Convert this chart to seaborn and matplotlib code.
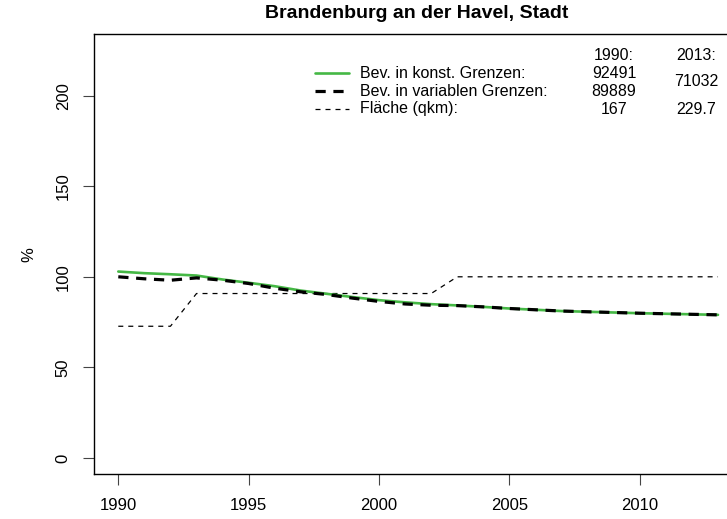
import numpy as np
import pandas as pd
import matplotlib
matplotlib.use("Agg")
import matplotlib.pyplot as plt
from matplotlib.lines import Line2D
import seaborn as sns

# Data
years = list(range(1990, 2014))
bev_konst = [102.9, 102.0, 101.4, 100.7, 98.5, 96.7, 94.8, 92.4, 90.6, 88.8,
             87.1, 85.9, 84.9, 84.2, 83.4, 82.5, 81.8, 81.1, 80.7, 80.3,
             79.9, 79.6, 79.3, 79.0]
bev_var = [100.0, 98.9, 98.1, 99.4, 98.1, 96.3, 93.7, 91.7, 90.2, 88.2,
           86.4, 85.0, 84.3, 84.1, 83.4, 82.5, 81.8, 81.1, 80.7, 80.3,
           79.9, 79.6, 79.3, 79.0]
flaeche_qkm = [167.0] * 3 + [208.5] * 10 + [229.7] * 11

legend_labels = ["Bev. in konst. Grenzen:", "Bev. in variablen Grenzen:", "Fläche (qkm):"]
col_1990 = ["92491", "89889", "167"]
col_2013 = ["71032", "229.7"]

df = pd.DataFrame({
    "Jahr": years,
    "konst": bev_konst,
    "variabel": bev_var,
    "flaeche": np.array(flaeche_qkm) / flaeche_qkm[-1] * 100,
})

sns.set_style("ticks")
plt.rcParams["font.family"] = ["Liberation Sans", "DejaVu Sans"]
plt.rcParams["text.color"] = "black"
plt.rcParams["axes.labelcolor"] = "black"
plt.rcParams["xtick.color"] = "black"
plt.rcParams["ytick.color"] = "black"

W, H = 727, 519
fig = plt.figure(figsize=(W / 100, H / 100), dpi=100)

def fx(px):
    return px / W

def fy(py):
    return 1 - py / H

# axes box (right edge is cut off by the image border, as in the reference)
left, right, top, bottom = 94.3, 742, 34, 474.3
ax = fig.add_axes([fx(left), fy(bottom), fx(right - left), (bottom - top) / H])

green = "#45b845"
sns.lineplot(data=df, x="Jahr", y="flaeche", ax=ax, color="black", lw=0.9,
             linestyle=(0, (4, 4)))
sns.lineplot(data=df, x="Jahr", y="konst", ax=ax, color=green, lw=1.9)
sns.lineplot(data=df, x="Jahr", y="variabel", ax=ax, color="black", lw=2.3,
             linestyle=(0, (3.2, 2.4)))

ax.set_xlim(1990 - 0.92, 2013 + 0.92)
ax.set_ylim(-9, 234)
ax.set_xticks([1990, 1995, 2000, 2005, 2010])
ax.set_yticks([0, 50, 100, 150, 200])
ax.tick_params(axis="both", length=8, width=0.8, color="#444444", labelsize=12, pad=9)
ax.tick_params(axis="y", labelrotation=90)
for lab in ax.get_yticklabels():
    lab.set_va("center")
ax.set_xlabel("")
ax.set_ylabel("%", fontsize=12, labelpad=14)
for sp in ax.spines.values():
    sp.set_visible(True)
    sp.set_color("black")
    sp.set_linewidth(1.0)

fig.text(fx(416.8), fy(14), "Brandenburg an der Havel, Stadt",
         ha="center", va="center", fontsize=14, fontweight="bold")

# legend block
row_y = [73, 91, 109]
styles = [dict(color=green, lw=1.9),
          dict(color="black", lw=2.3, linestyle=(0, (3.2, 2.4))),
          dict(color="black", lw=0.9, linestyle=(0, (4, 4)))]
for yy, lab, st in zip(row_y, legend_labels, styles):
    fig.add_artist(Line2D([fx(315), fx(349)], [fy(yy), fy(yy)], **st))
    fig.text(fx(360), fy(yy), lab, ha="left", va="center", fontsize=11.5)

fig.text(fx(614), fy(55), "1990:", ha="center", va="center", fontsize=11.5)
fig.text(fx(696), fy(55), "2013:", ha="center", va="center", fontsize=11.5)
for yy, v in zip(row_y, col_1990):
    fig.text(fx(614), fy(yy), v, ha="center", va="center", fontsize=11.5)
fig.text(fx(696), fy(82), col_2013[0], ha="center", va="center", fontsize=11.5)
fig.text(fx(696), fy(row_y[2]), col_2013[1], ha="center", va="center", fontsize=11.5)

fig.savefig("out.png", dpi=100)
